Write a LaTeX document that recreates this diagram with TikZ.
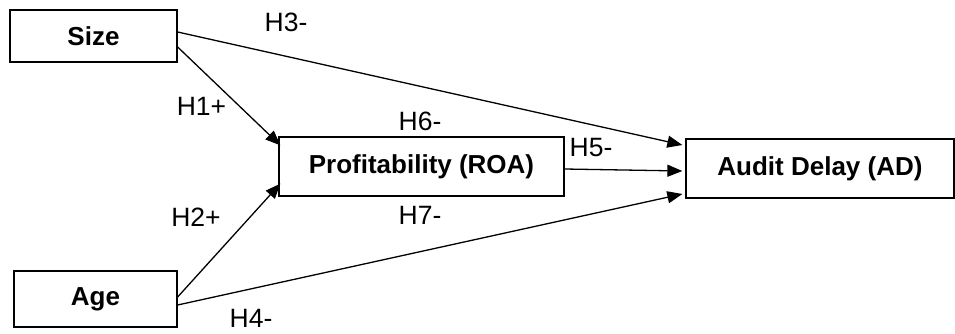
\documentclass[tikz,border=0pt]{standalone}
\usepackage{fontspec}
\setmainfont{Liberation Sans}
\usetikzlibrary{arrows.meta}
\begin{document}
\begin{tikzpicture}[x=1pt,y=1pt,
  box/.style={draw=black,line width=1.3pt,minimum height=#1,inner sep=0pt,font=\fontsize{26}{31}\selectfont\bfseries},
  hyp/.style={inner sep=0pt,font=\fontsize{26.5}{31}\selectfont},
  arr/.style={draw=black,line width=1.3pt,-{Triangle[length=15pt,width=12pt]}}]
\useasboundingbox (0,0) rectangle (955,333);
\node[box=52pt,minimum width=167pt] (size) at (93.5,297) {Size};
\node[box=56pt,minimum width=163pt] (age) at (95.5,34) {Age};
\node[box=59pt,minimum width=285pt] (roa) at (421.5,166.5) {Profitability (ROA)};
\node[box=59pt,minimum width=268pt] (ad) at (820,164.5) {Audit Delay (AD)};
\draw[arr] ([yshift=-11pt]size.east) -- ([shift={(2pt,-9pt)}]roa.north west);
\draw[arr] ([yshift=4pt]size.east) -- ([shift={(-3pt,23.5pt)}]ad.west);
\draw[arr] ([yshift=-2.5pt]roa.east) -- ([shift={(-3pt,-2.5pt)}]ad.west);
\draw[arr] ([yshift=2pt]age.east) -- ([shift={(2pt,13pt)}]roa.south west);
\draw[arr] ([yshift=-6pt]age.east) -- ([shift={(-3pt,-25.5pt)}]ad.west);
\node[hyp] (h3) at (286,311) {H3-};
\node[hyp] (h1) at (201.5,227) {H1+};
\node[hyp] (h6) at (420,211.5) {H6-};
\node[hyp] (h5) at (591,185) {H5-};
\node[hyp] (h2) at (196,116) {H2+};
\node[hyp] (h7) at (420,118) {H7-};
\node[hyp] (h4) at (251,14.5) {H4-};
\end{tikzpicture}
\end{document}
